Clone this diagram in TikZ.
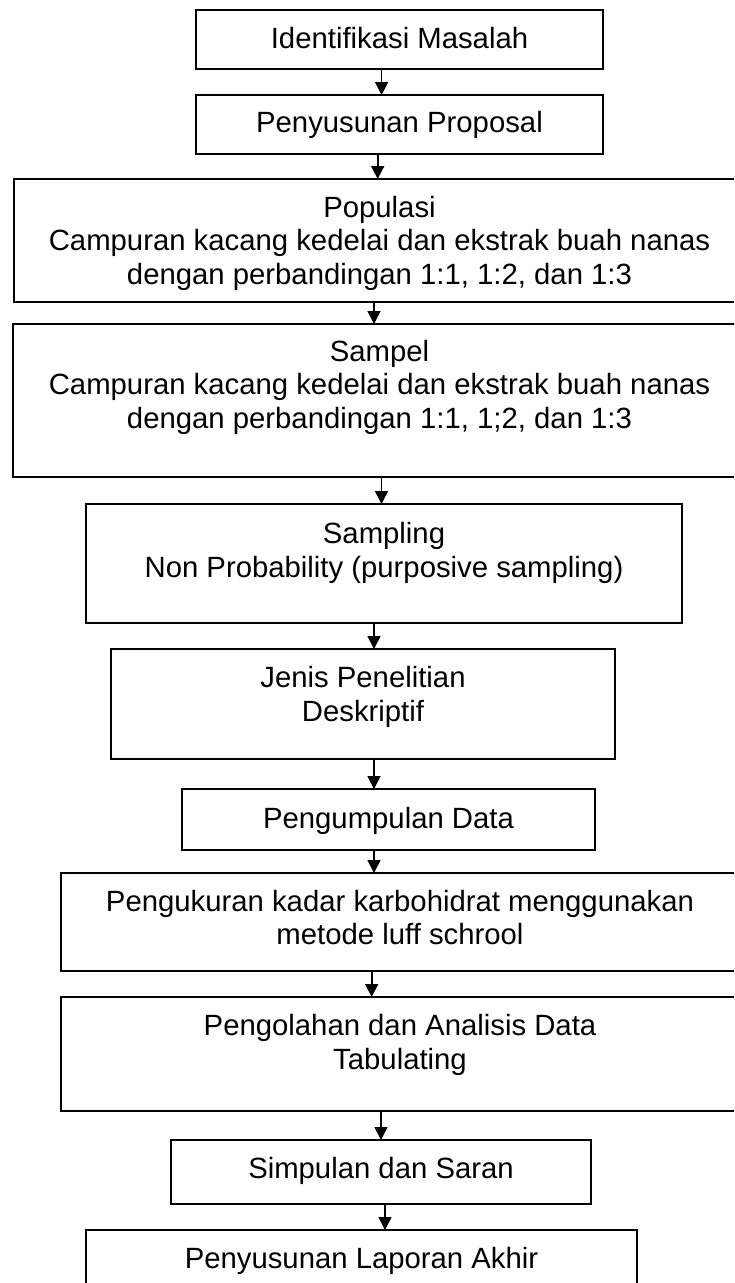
\documentclass[tikz,border=0pt]{standalone}
\usepackage{fontspec}
\setmainfont{Liberation Sans}
\usetikzlibrary{arrows.meta}
\begin{document}
\begin{tikzpicture}[x=1pt,y=-1pt,
  box/.style={draw=black,line width=1.7pt,rectangle,inner sep=0pt,outer sep=0pt},
  lbl/.style={font=\fontsize{29.3}{33.5}\selectfont,align=center,anchor=base,inner sep=0pt},
  arr/.style={line width=1.6pt,-{Triangle[length=13pt,width=13pt]}}]
\useasboundingbox (0,0) rectangle (734,1283);
\clip (0,0) rectangle (734,1283);
\fill[white] (0,0) rectangle (734,1283);
% boxes
\node[box,minimum width=407pt,minimum height=59pt]  (b1)  at (399.5,39.5) {};
\node[box,minimum width=407pt,minimum height=59pt]  (b2)  at (399.5,124.5) {};
\node[box,minimum width=731pt,minimum height=123pt] (b3)  at (379.5,240.5) {};
\node[box,minimum width=733pt,minimum height=153pt] (b4)  at (379.4,400.5) {};
\node[box,minimum width=596pt,minimum height=119pt] (b5)  at (384,563.5) {};
\node[box,minimum width=504pt,minimum height=110pt] (b6)  at (363,704) {};
\node[box,minimum width=413pt,minimum height=61pt]  (b7)  at (388.5,819.5) {};
\node[box,minimum width=678pt,minimum height=98pt]  (b8)  at (400,922) {};
\node[box,minimum width=678pt,minimum height=114pt] (b9)  at (400,1054) {};
\node[box,minimum width=420pt,minimum height=64pt]  (b10) at (381,1172) {};
\node[box,minimum width=551pt,minimum height=62pt]  (b11) at (361.5,1261) {};
% texts (anchor=base is the baseline of the last line)
\node[lbl] (t1)  at (399.5,48.3) {Identifikasi Masalah};
\node[lbl] (t2)  at (399.5,132.7) {Penyusunan Proposal};
\node[lbl] (t3)  at (379.5,284) {Populasi\\Campuran kacang kedelai dan ekstrak buah nanas\\dengan perbandingan 1:1, 1:2, dan 1:3};
\node[lbl] (t4)  at (379.5,428.3) {Sampel\\Campuran kacang kedelai dan ekstrak buah nanas\\dengan perbandingan 1:1, 1;2, dan 1:3};
\node[lbl] (t5)  at (384,577.3) {Sampling\\Non Probability (purposive sampling)};
\node[lbl] (t6)  at (363,721.3) {Jenis Penelitian\\Deskriptif};
\node[lbl] (t7)  at (388.5,828.3) {Pengumpulan Data};
\node[lbl] (t8)  at (400,944.7) {Pengukuran kadar karbohidrat menggunakan\\metode luff schrool};
\node[lbl] (t9)  at (400,1069) {Pengolahan dan Analisis Data\\Tabulating};
\node[lbl] (t10) at (381,1178) {Simpulan dan Saran};
\node[lbl] (t11) at (361.5,1268) {Penyusunan Laporan Akhir};
% arrows
\draw[arr] ([xshift=-17.9pt]b1.south) -- ([xshift=-17.9pt]b1.south |- b2.north);
\draw[arr] ([xshift=-21.8pt]b2.south) -- ([xshift=-21.8pt]b2.south |- b3.north);
\draw[arr] ([xshift=-5.5pt]b3.south) -- ([xshift=-5.5pt]b3.south |- b4.north);
\draw[arr] ([xshift=2.1pt]b4.south) -- ([xshift=2.1pt]b4.south |- b5.north);
\draw[arr] ([xshift=-10pt]b5.south) -- ([xshift=-10pt]b5.south |- b6.north);
\draw[arr] ([xshift=11pt]b6.south) -- ([xshift=11pt]b6.south |- b7.north);
\draw[arr] ([xshift=-14.5pt]b7.south) -- ([xshift=-14.5pt]b7.south |- b8.north);
\draw[arr] ([xshift=-28.3pt]b8.south) -- ([xshift=-28.3pt]b8.south |- b9.north);
\draw[arr] ([xshift=-19pt]b9.south) -- ([xshift=-19pt]b9.south |- b10.north);
\draw[arr] ([xshift=4pt]b10.south) -- ([xshift=4pt]b10.south |- b11.north);
\end{tikzpicture}
\end{document}
